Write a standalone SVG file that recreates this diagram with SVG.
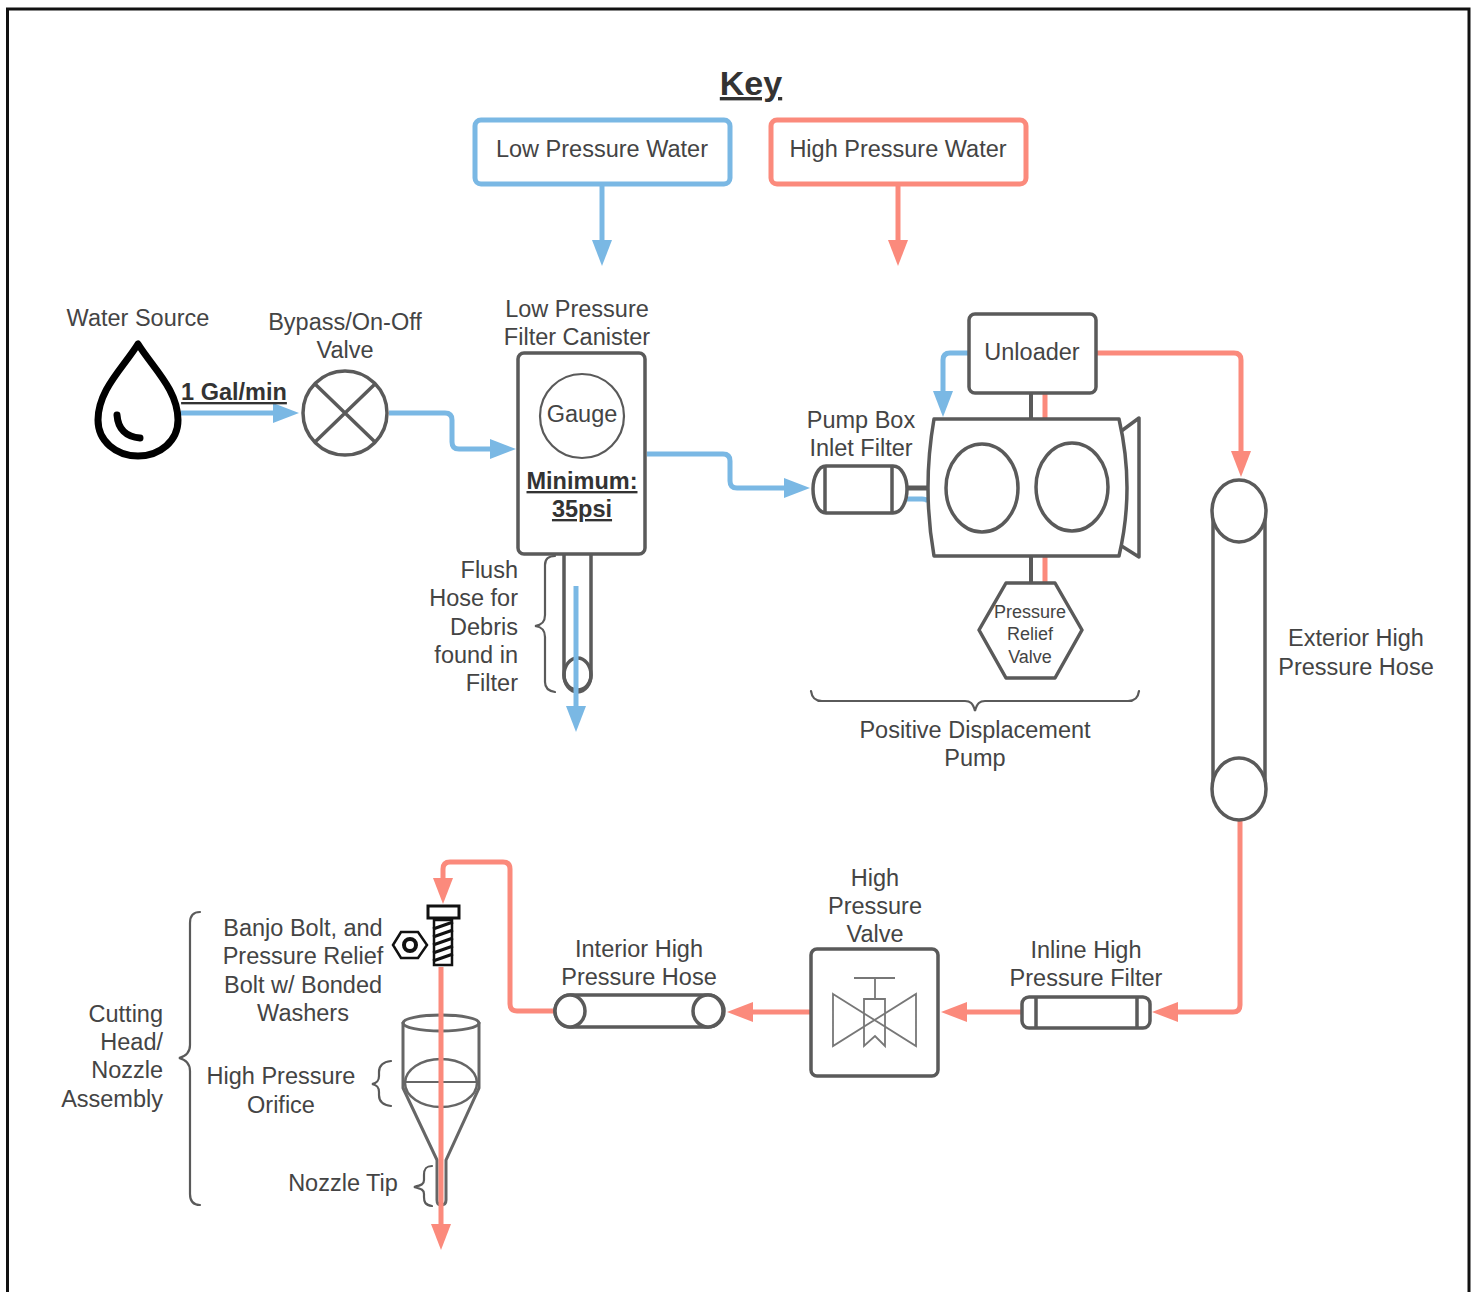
<svg xmlns="http://www.w3.org/2000/svg" width="1478" height="1292" viewBox="0 0 1478 1292">
<style>
text{font-family:"Liberation Sans",Arial,sans-serif;font-size:23.5px;fill:#444;text-anchor:middle}
.b{font-weight:bold;text-decoration:underline;fill:#333}
.s{fill:#fff;stroke:#5a5a5a;stroke-width:3.5;stroke-linejoin:round}
.n{fill:none;stroke:#5a5a5a;stroke-width:3.5;stroke-linejoin:round}
.t{fill:none;stroke:#5a5a5a;stroke-width:2.2;stroke-linecap:round}
.blue{fill:none;stroke:#7ab8e4;stroke-width:5;stroke-linejoin:round}
.red{fill:none;stroke:#fb8a7c;stroke-width:5;stroke-linejoin:round}
.ab{marker-end:url(#ab)}
.ar{marker-end:url(#ar)}
.v{fill:none;stroke:#777;stroke-width:1.800}
</style>
<defs>
<marker id="ab" markerUnits="userSpaceOnUse" markerWidth="28" markerHeight="22" refX="2" refY="11" orient="auto"><path d="M0 1 L26 11 L0 21 Z" fill="#7ab8e4"/></marker>
<marker id="ar" markerUnits="userSpaceOnUse" markerWidth="28" markerHeight="22" refX="2" refY="11" orient="auto"><path d="M0 1 L26 11 L0 21 Z" fill="#fb8a7c"/></marker>
</defs>
<rect width="1478" height="1292" fill="#fff"/>
<path d="M7.500 1292V9H1469V1292" fill="none" stroke="#111" stroke-width="3"/>

<g id="key-title"><text x="751" y="95" class="b" style="font-size:34px">Key</text></g>
<g id="key-low"><rect x="475" y="120" width="255" height="64" rx="6" fill="#fff" stroke="#7ab8e4" stroke-width="5"/><text x="602" y="157">Low Pressure Water</text></g>
<g id="key-high"><rect x="771" y="120" width="255" height="64" rx="6" fill="#fff" stroke="#fb8a7c" stroke-width="5"/><text x="898" y="157">High Pressure Water</text></g>

<g id="connectors">
<path class="blue ab" d="M602 185V242"/>
<path class="red ar" d="M898 185V242"/>
<path class="blue ab" d="M181 413H275"/>
<path class="blue ab" d="M389 413H445Q452 413 452 420V442Q452 449 459 449H492"/>
<path class="blue ab" d="M647 454H723Q730 454 730 461V481Q730 488 737 488H786"/>
<path class="blue" d="M906 499H922Q926 499 928 501"/>
<path d="M906 488H928" stroke="#5a5a5a" stroke-width="5" fill="none"/>
<path class="blue ab" d="M968 353H950Q943 353 943 360V393"/>
<path class="red ar" d="M1097 353H1234Q1241 353 1241 360V453"/>
<path d="M1031 393V419M1031 556V583" stroke="#5a5a5a" stroke-width="4" fill="none"/>
<path class="red" d="M1045 393V419M1045 556V583"/>
<path class="red ar" d="M1240 820V1005Q1240 1012 1233 1012H1176"/>
<path class="red ar" d="M1021 1012H965"/>
<path class="red ar" d="M810 1012H751"/>
<path class="red ar" d="M554 1011H517Q510 1011 510 1004V869Q510 862 503 862H450Q443 862 443 869V880"/>
</g>

<g id="water-source">
<text x="138" y="326">Water Source</text>
<path d="M138 344C123 368 98 390 98 420C98 441 116 456 138 456C160 456 178 441 178 420C178 390 153 368 138 344Z" fill="none" stroke="#000" stroke-width="7" stroke-linejoin="round"/>
<path d="M117 415C118 429 126 437 140 438" fill="none" stroke="#000" stroke-width="7" stroke-linecap="round"/>
<text x="234" y="400" class="b">1 Gal/min</text>
</g>

<g id="bypass-valve">
<text x="345" y="330">Bypass/On-Off</text><text x="345" y="358">Valve</text>
<circle class="s" cx="345" cy="413" r="42"/>
<path class="n" d="M315 384L375 442M375 384L315 442"/>
</g>

<g id="filter-canister">
<text x="577" y="317">Low Pressure</text><text x="577" y="345">Filter Canister</text>
<rect class="s" x="518" y="353" width="127" height="201" rx="6"/>
<circle class="n" cx="582" cy="416" r="42" style="stroke-width:2.200"/>
<text x="582" y="422">Gauge</text>
<text x="582" y="489" class="b">Minimum:</text>
<text x="582" y="517" class="b">35psi</text>
</g>

<g id="flush-hose">
<path class="n" d="M564 555V675A13.500 15 0 0 0 591 675V555"/>
<ellipse class="n" cx="577.500" cy="675" rx="13.500" ry="17"/>
<path class="t" d="M555 556C548 556 545 559 545 565V615C545 622 542 625 535 626C542 627 545 630 545 637V682C545 688 548 691 555 692"/>
<text x="518" y="578" style="text-anchor:end">Flush</text>
<text x="518" y="606" style="text-anchor:end">Hose for</text>
<text x="518" y="635" style="text-anchor:end">Debris</text>
<text x="518" y="663" style="text-anchor:end">found in</text>
<text x="518" y="691" style="text-anchor:end">Filter</text>
<path class="blue ab" d="M576 586V708"/>
</g>

<g id="inlet-filter">
<text x="861" y="428">Pump Box</text><text x="861" y="456">Inlet Filter</text>
<path class="s" d="M826 466H893C902 466 907 478 907 489C907 501 902 513 893 513H826C818 513 813 501 813 489C813 478 818 466 826 466Z"/>
<path class="n" d="M825 466V513M892 466V513"/>
</g>

<g id="unloader">
<rect class="s" x="969" y="314" width="127" height="79" rx="6"/>
<text x="1032" y="360">Unloader</text>
</g>

<g id="pump">
<path class="s" d="M1120 432L1139 418V557L1120 545Z"/>
<path class="s" d="M934 419H1119Q1135 488 1119 556H934Q922 488 934 419Z"/>
<ellipse class="n" cx="982" cy="488" rx="36" ry="44"/>
<ellipse class="n" cx="1072" cy="487" rx="36" ry="44"/>
</g>

<g id="relief-valve">
<path class="s" d="M1006 583H1055L1082 630L1055 678H1006L979 630Z"/>
<text x="1030" y="618" style="font-size:18px">Pressure</text>
<text x="1030" y="640" style="font-size:18px">Relief</text>
<text x="1030" y="663" style="font-size:18px">Valve</text>
</g>

<g id="pump-label">
<path class="t" d="M811 691C812 698 815 701 822 701H965C970 701 973 703 975 711C977 703 980 701 985 701H1128C1135 701 1138 698 1139 691"/>
<text x="975" y="738">Positive Displacement</text><text x="975" y="766">Pump</text>
</g>

<g id="exterior-hose">
<path class="s" d="M1213 510V789H1265V510Z"/>
<ellipse class="s" cx="1239" cy="511" rx="27" ry="31"/>
<ellipse class="s" cx="1239" cy="789" rx="27" ry="31"/>
<text x="1356" y="646">Exterior High</text><text x="1356" y="675">Pressure Hose</text>
</g>

<g id="inline-filter">
<text x="1086" y="958">Inline High</text><text x="1086" y="986">Pressure Filter</text>
<rect class="s" x="1022" y="997" width="128" height="31" rx="7"/>
<path class="n" d="M1036 997V1028M1137 997V1028"/>
</g>

<g id="hp-valve">
<text x="875" y="886">High</text><text x="875" y="914">Pressure</text><text x="875" y="942">Valve</text>
<rect class="s" x="811" y="949" width="127" height="127" rx="6"/>
<path class="v" d="M833 994L916 1046V994L833 1046ZM854 978H895M875 978V999M864 999H885V1046L875 1036L864 1046Z"/>
</g>

<g id="interior-hose">
<text x="639" y="957">Interior High</text><text x="639" y="985">Pressure Hose</text>
<rect class="s" x="555" y="995" width="169" height="32" rx="16"/>
<ellipse class="s" cx="570" cy="1011" rx="15" ry="16"/>
<ellipse class="s" cx="708" cy="1011" rx="15" ry="16"/>
</g>

<g id="cutting-head">
<path class="t" d="M200 912C193 912 190 916 190 923V1045C190 1052 187 1056 179 1058C187 1060 190 1064 190 1071V1194C190 1201 193 1205 200 1205"/>
<text x="163" y="1022" style="text-anchor:end">Cutting</text>
<text x="163" y="1050" style="text-anchor:end">Head/</text>
<text x="163" y="1078" style="text-anchor:end">Nozzle</text>
<text x="163" y="1107" style="text-anchor:end">Assembly</text>
<text x="303" y="936">Banjo Bolt, and</text>
<text x="303" y="964">Pressure Relief</text>
<text x="303" y="993">Bolt w/ Bonded</text>
<text x="303" y="1021">Washers</text>
<text x="281" y="1084">High Pressure</text>
<text x="281" y="1113">Orifice</text>
<text x="343" y="1191">Nozzle Tip</text>
<path class="t" d="M391 1061C382 1062 379 1066 379 1072V1076C379 1081 377 1083 372 1084C377 1085 379 1087 379 1092V1095C379 1101 382 1105 391 1106"/>
<path class="t" d="M432 1166C425 1166 424 1170 424 1175V1180C424 1184 422 1185 414 1187C422 1189 424 1190 424 1194V1197C424 1202 425 1205 432 1206"/>
<path d="M428 906H459V918H428Z" fill="#fff" stroke="#111" stroke-width="3"/>
<path d="M434 920H452V965H434Z" fill="#fff" stroke="#111" stroke-width="2.500"/>
<path d="M433 929L453 922M433 937L453 930M433 945L453 938M433 953L453 946M433 961L453 954" stroke="#111" stroke-width="3" fill="none"/>
<path d="M393 945L401 932H418L427 945L418 958H401Z" fill="#fff" stroke="#111" stroke-width="2.500"/>
<circle cx="410" cy="945" r="6" fill="none" stroke="#111" stroke-width="4"/>
<path d="M403 1022V1088L437 1160V1200Q437 1205 441 1205Q446 1205 446 1200V1160L479 1088V1022" fill="none" stroke="#666" stroke-width="3" stroke-linejoin="round"/>
<ellipse cx="441" cy="1023" rx="38" ry="8" fill="none" stroke="#666" stroke-width="3"/>
<ellipse cx="441" cy="1083" rx="36" ry="24" fill="none" stroke="#666" stroke-width="2.500"/>
<path d="M405 1082H477" stroke="#666" stroke-width="2.200"/>
<path class="red ar" d="M441 967V1226"/>
</g>
</svg>
